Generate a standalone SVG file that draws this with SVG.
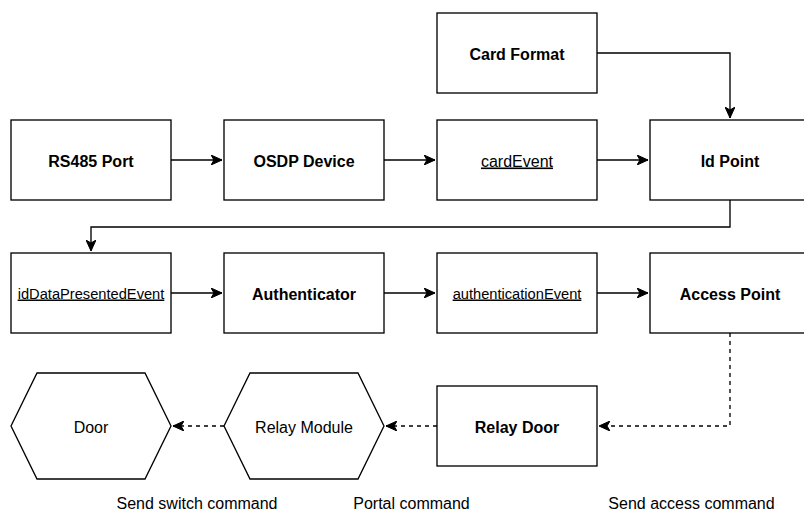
<svg xmlns="http://www.w3.org/2000/svg" width="804" height="513" viewBox="0 0 804 513">
<style>
.box{fill:#fff;stroke:#000;stroke-width:1.33}
.t{font-family:"Liberation Sans",Arial,Helvetica,sans-serif;font-size:16px;text-anchor:middle;fill:#000}
.b{font-weight:bold}
.u{text-decoration:underline}
.s{font-size:14.67px}
.c{fill:none;stroke:#000;stroke-width:1.33}
.d{stroke-dasharray:4 4}
</style>
<defs>
<marker id="arr" markerUnits="userSpaceOnUse" markerWidth="12" markerHeight="10" refX="11" refY="5" orient="auto">
<path d="M11,5 L0,0 L3,5 L0,10 Z" fill="#000" stroke="#000" stroke-width="1"/>
</marker>
</defs>
<rect width="804" height="513" fill="#fff"/>
<g id="connectors">
<path class="c" d="M171,160 L222,160" marker-end="url(#arr)"/>
<path class="c" d="M384,160 L435,160" marker-end="url(#arr)"/>
<path class="c" d="M597,160 L648,160" marker-end="url(#arr)"/>
<path class="c" d="M597,53 L730,53 L730,118" marker-end="url(#arr)"/>
<path class="c" d="M730,200 L730,227 L91,227 L91,251" marker-end="url(#arr)"/>
<path class="c" d="M171,293 L222,293" marker-end="url(#arr)"/>
<path class="c" d="M384,293 L435,293" marker-end="url(#arr)"/>
<path class="c" d="M597,293 L648,293" marker-end="url(#arr)"/>
<path class="c d" d="M730,333 L730,426 L599,426" marker-end="url(#arr)"/>
<path class="c d" d="M437,426 L386,426" marker-end="url(#arr)"/>
<path class="c d" d="M224,426 L173,426" marker-end="url(#arr)"/>
</g>
<g id="card-format"><rect class="box" x="437" y="13" width="160" height="80"/><text class="t b" x="517" y="59.5">Card Format</text></g>
<g id="rs485-port"><rect class="box" x="11" y="120" width="160" height="80"/><text class="t b" x="91" y="166.5">RS485 Port</text></g>
<g id="osdp-device"><rect class="box" x="224" y="120" width="160" height="80"/><text class="t b" x="304" y="166.5">OSDP Device</text></g>
<g id="card-event"><rect class="box" x="437" y="120" width="160" height="80"/><text class="t u" x="517" y="166.5">cardEvent</text></g>
<g id="id-point"><rect class="box" x="650" y="120" width="160" height="80"/><text class="t b" x="730" y="166.5">Id Point</text></g>
<g id="id-data-presented-event"><rect class="box" x="11" y="253" width="160" height="80"/><text class="t u s" x="91" y="298.5">idDataPresentedEvent</text></g>
<g id="authenticator"><rect class="box" x="224" y="253" width="160" height="80"/><text class="t b" x="304" y="299.5">Authenticator</text></g>
<g id="authentication-event"><rect class="box" x="437" y="253" width="160" height="80"/><text class="t u s" x="517" y="298.5">authenticationEvent</text></g>
<g id="access-point"><rect class="box" x="650" y="253" width="160" height="80"/><text class="t b" x="730" y="299.5">Access Point</text></g>
<g id="relay-door"><rect class="box" x="437" y="386" width="160" height="80"/><text class="t b" x="517" y="432.5">Relay Door</text></g>
<g id="relay-module"><polygon class="box" points="224,426 250,373 358,373 384,426 358,479 250,479"/><text class="t" x="304" y="432.5">Relay Module</text></g>
<g id="door"><polygon class="box" points="11,426 37,373 145,373 171,426 145,479 37,479"/><text class="t" x="91" y="432.5">Door</text></g>
<g id="labels">
<text class="t" x="197" y="509">Send switch command</text>
<text class="t" x="411.5" y="509">Portal command</text>
<text class="t" x="691.5" y="509">Send access command</text>
</g>
</svg>
